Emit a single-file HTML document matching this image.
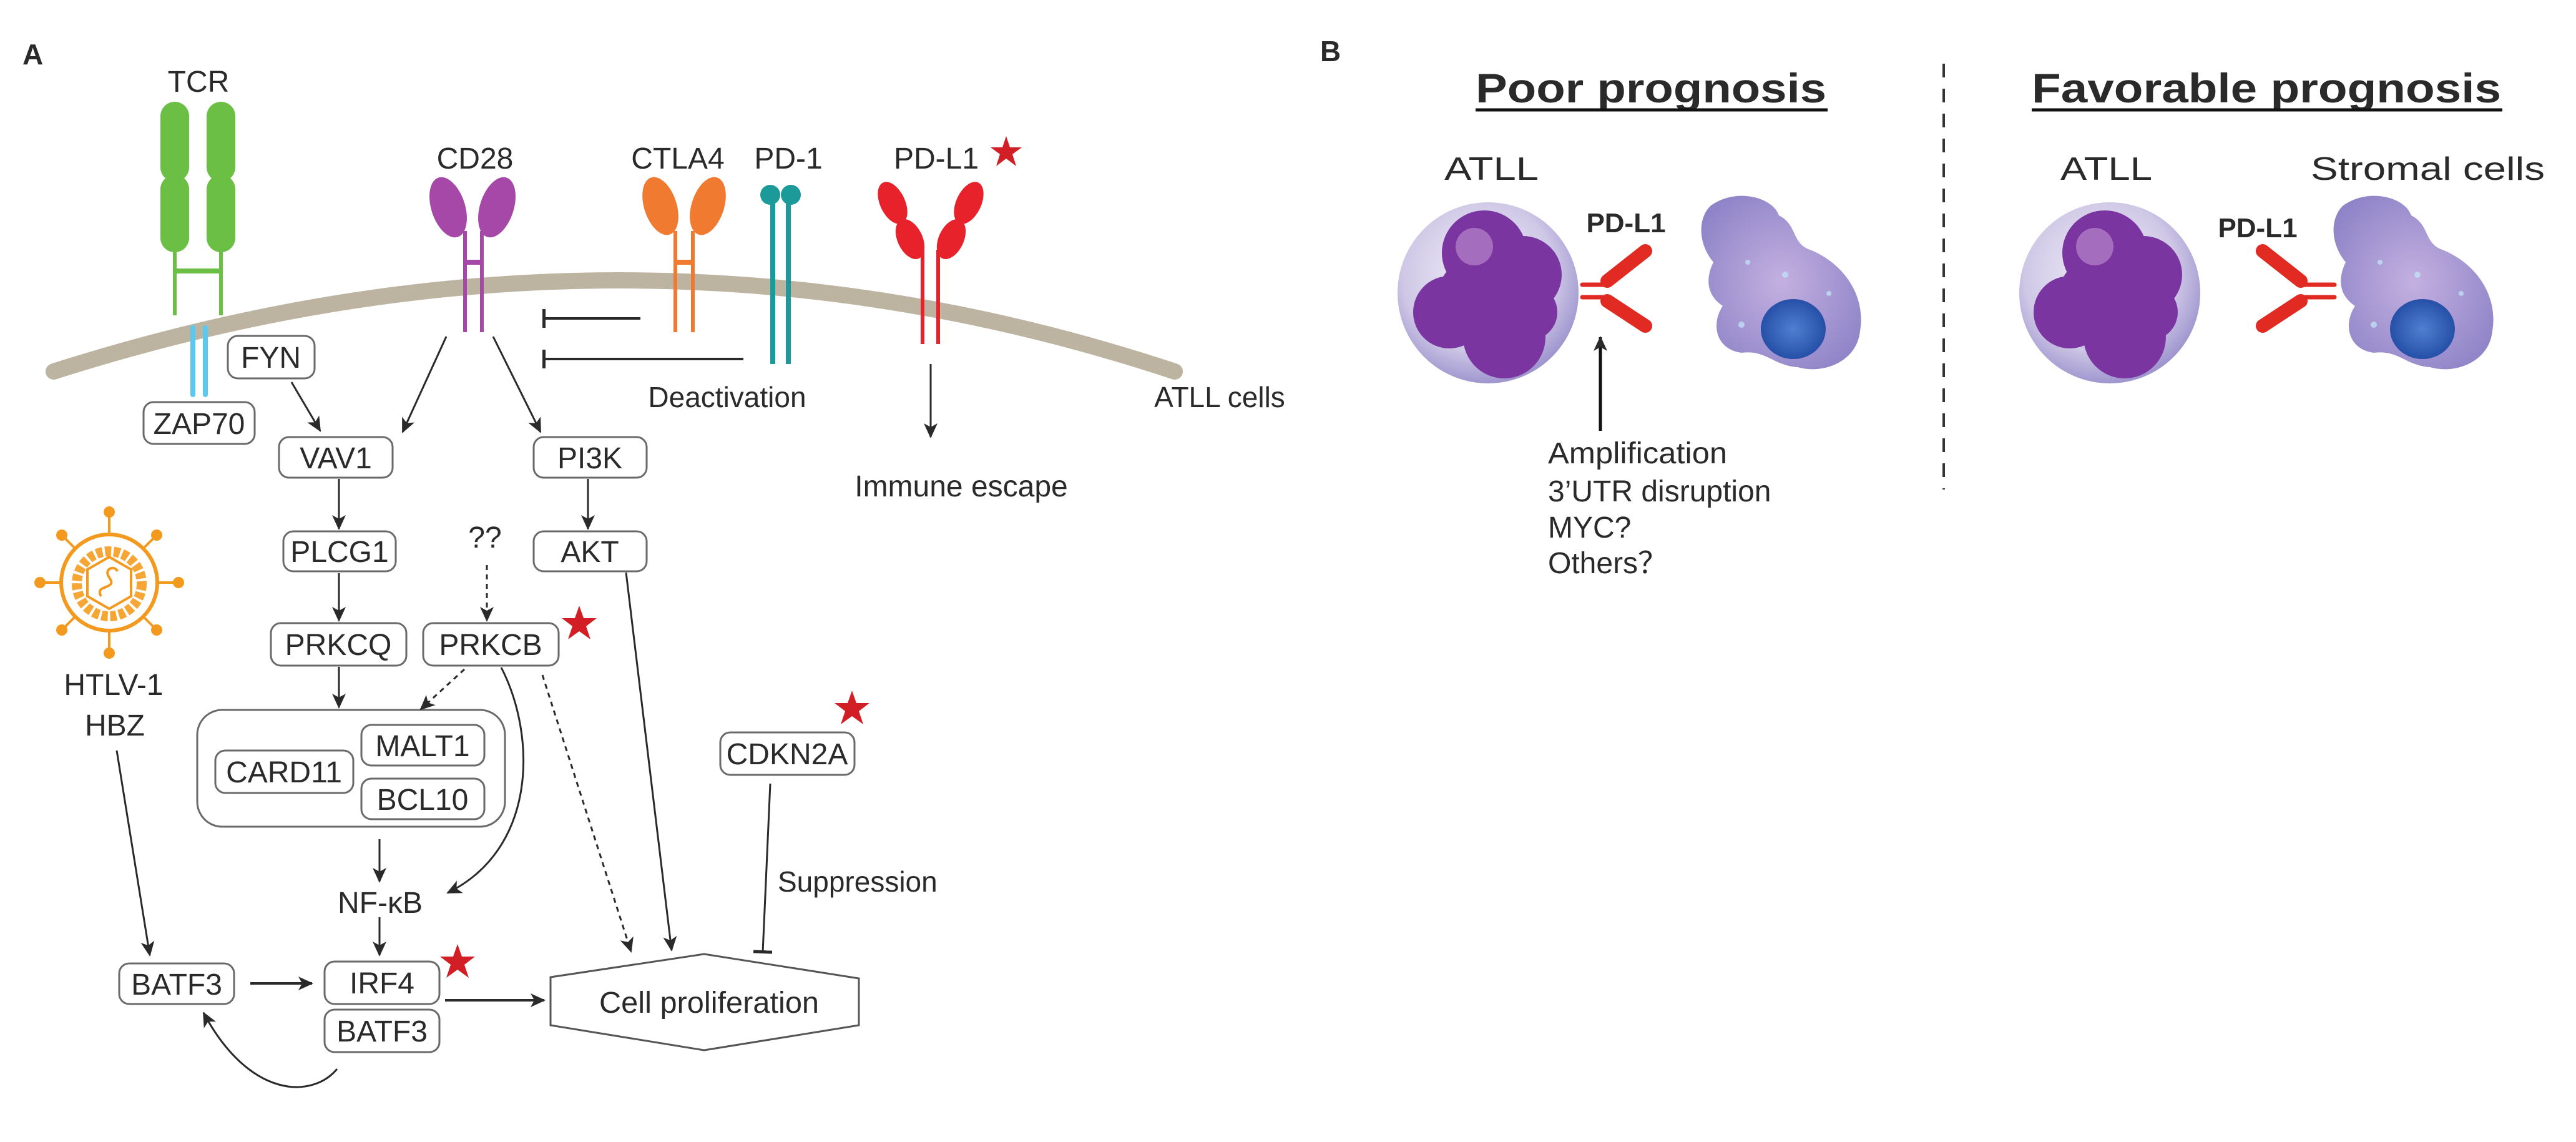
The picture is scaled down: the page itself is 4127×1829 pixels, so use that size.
<!DOCTYPE html>
<html><head><meta charset="utf-8"><style>
html,body{margin:0;padding:0;background:#fff}
svg{display:block}
text{font-family:"Liberation Sans",Arial,sans-serif;fill:#2a2a2a}
</style></head><body>
<svg width="4127" height="1829" viewBox="0 0 4127 1829" xmlns="http://www.w3.org/2000/svg">
<defs>
<marker id="ah" markerUnits="userSpaceOnUse" markerWidth="26" markerHeight="26" refX="22" refY="13" orient="auto"><path d="M0,2 L24,13 L0,24 L6,13 Z" fill="#2a2a2a"/></marker>
<marker id="tb" markerUnits="userSpaceOnUse" markerWidth="6" markerHeight="30" refX="3" refY="15" orient="auto"><rect x="0" y="0" width="5" height="30" fill="#2a2a2a"/></marker>
<radialGradient id="cellg" cx="0.45" cy="0.4" r="0.6"><stop offset="0" stop-color="#f2eff8"/><stop offset="0.7" stop-color="#cfc8e6"/><stop offset="1" stop-color="#9f96cf"/></radialGradient>
<radialGradient id="strg" cx="0.5" cy="0.5" r="0.6"><stop offset="0" stop-color="#c4b0e0"/><stop offset="1" stop-color="#8f84c8"/></radialGradient>
<radialGradient id="bn" cx="0.5" cy="0.5" r="0.5"><stop offset="0" stop-color="#4f7fd0"/><stop offset="1" stop-color="#2650a8"/></radialGradient>
</defs>

<!-- Panel A -->
<text x="36" y="103" font-size="46" font-weight="bold" fill="#111">A</text>

<path d="M86,595 Q1000,303 1882,595" fill="none" stroke="#bcb4a1" stroke-width="26" stroke-linecap="round"/>

<!-- TCR -->
<text x="318" y="147" font-size="48" text-anchor="middle">TCR</text>
<g fill="#6cbf45">
<rect x="257" y="163" width="46" height="128" rx="23"/><rect x="257" y="280" width="46" height="124" rx="23"/>
<rect x="331" y="163" width="46" height="128" rx="23"/><rect x="331" y="280" width="46" height="124" rx="23"/>
</g>
<g stroke="#6cbf45" stroke-width="6"><line x1="280" y1="395" x2="280" y2="505"/><line x1="354" y1="395" x2="354" y2="505"/><line x1="280" y1="434" x2="354" y2="434" stroke-width="8"/></g>
<g stroke="#5bc8f0" stroke-width="8" stroke-linecap="round"><line x1="309" y1="525" x2="309" y2="632"/><line x1="329" y1="525" x2="329" y2="632"/></g>

<!-- CD28 -->
<text x="761" y="270" font-size="48" text-anchor="middle">CD28</text>
<g fill="#a548a8"><ellipse cx="718" cy="332" rx="27" ry="50" transform="rotate(-18 718 332)"/><ellipse cx="796" cy="332" rx="27" ry="50" transform="rotate(18 796 332)"/></g>
<g stroke="#a548a8" stroke-width="6"><line x1="745" y1="370" x2="745" y2="532"/><line x1="772" y1="370" x2="772" y2="532"/><line x1="745" y1="420" x2="772" y2="420" stroke-width="8"/></g>

<!-- CTLA4 -->
<text x="1086" y="270" font-size="48" text-anchor="middle">CTLA4</text>
<g fill="#f07a30"><ellipse cx="1058" cy="330" rx="26" ry="48" transform="rotate(-18 1058 330)"/><ellipse cx="1134" cy="330" rx="26" ry="48" transform="rotate(18 1134 330)"/></g>
<g stroke="#f07a30" stroke-width="6"><line x1="1082" y1="370" x2="1082" y2="532"/><line x1="1110" y1="370" x2="1110" y2="532"/><line x1="1082" y1="420" x2="1110" y2="420" stroke-width="8"/></g>

<!-- PD-1 -->
<text x="1263" y="270" font-size="48" text-anchor="middle">PD-1</text>
<g fill="#1c9a9a"><circle cx="1234" cy="312" r="16"/><circle cx="1267" cy="312" r="16"/></g>
<g stroke="#1c9a9a" stroke-width="8"><line x1="1238" y1="315" x2="1238" y2="583"/><line x1="1263" y1="315" x2="1263" y2="583"/></g>

<!-- PD-L1 -->
<text x="1500" y="270" font-size="48" text-anchor="middle">PD-L1</text>
<g fill="#e8222a">
<ellipse cx="1430" cy="325" rx="20" ry="36" transform="rotate(-25 1430 325)"/><ellipse cx="1458" cy="383" rx="20" ry="34" transform="rotate(-25 1458 383)"/>
<ellipse cx="1552" cy="325" rx="20" ry="36" transform="rotate(25 1552 325)"/><ellipse cx="1524" cy="383" rx="20" ry="34" transform="rotate(25 1524 383)"/>
</g>
<g stroke="#e8222a" stroke-width="6"><line x1="1478" y1="400" x2="1478" y2="551"/><line x1="1503" y1="400" x2="1503" y2="551"/></g>

<!-- stars -->
<g fill="#d21f26">
<polygon points="1612,218 1618,236 1637,236 1622,247 1628,266 1612,254 1596,266 1602,247 1587,236 1606,236"/>
<polygon points="928,970 935,990 956,990 939,1003 946,1024 928,1011 910,1024 917,1003 900,990 921,990"/>
<polygon points="1365,1106 1372,1126 1393,1126 1376,1139 1383,1160 1365,1147 1347,1160 1354,1139 1337,1126 1358,1126"/>
<polygon points="733,1512 740,1532 761,1532 744,1545 751,1566 733,1553 715,1566 722,1545 705,1532 726,1532"/>
</g>

<g stroke="#2a2a2a" stroke-width="4" fill="none">
<line x1="1026" y1="510" x2="871" y2="510" marker-end="url(#tb)"/>
<line x1="1191" y1="575" x2="871" y2="575" marker-end="url(#tb)"/>
</g>
<text x="1165" y="652" font-size="46" text-anchor="middle">Deactivation</text>
<text x="1954" y="652" font-size="46" text-anchor="middle">ATLL cells</text>

<!-- boxes -->
<g fill="#fff" stroke="#6a6a6a" stroke-width="3">
<rect x="365" y="538" width="139" height="68" rx="16"/>
<rect x="230" y="644" width="178" height="67" rx="16"/>
<rect x="447" y="700" width="182" height="65" rx="16"/>
<rect x="855" y="700" width="181" height="65" rx="16"/>
<rect x="454" y="851" width="180" height="64" rx="16"/>
<rect x="855" y="851" width="181" height="64" rx="16"/>
<rect x="434" y="998" width="217" height="68" rx="16"/>
<rect x="678" y="998" width="217" height="68" rx="16"/>
<rect x="316" y="1137" width="493" height="187" rx="40"/>
<rect x="345" y="1202" width="221" height="68" rx="16"/>
<rect x="579" y="1161" width="197" height="65" rx="16"/>
<rect x="579" y="1247" width="197" height="65" rx="16"/>
<rect x="1154" y="1173" width="215" height="68" rx="16"/>
<rect x="191" y="1543" width="184" height="65" rx="16"/>
<rect x="520" y="1540" width="184" height="68" rx="16"/>
<rect x="520" y="1617" width="184" height="68" rx="16"/>
</g>
<g font-size="48" text-anchor="middle">
<text x="434" y="589">FYN</text>
<text x="319" y="695">ZAP70</text>
<text x="538" y="750">VAV1</text>
<text x="945" y="750">PI3K</text>
<text x="544" y="900">PLCG1</text>
<text x="945" y="900">AKT</text>
<text x="777" y="877">??</text>
<text x="542" y="1049">PRKCQ</text>
<text x="786" y="1049">PRKCB</text>
<text x="455" y="1253">CARD11</text>
<text x="677" y="1211">MALT1</text>
<text x="677" y="1297">BCL10</text>
<text x="1261" y="1224">CDKN2A</text>
<text x="283" y="1593">BATF3</text>
<text x="612" y="1591">IRF4</text>
<text x="612" y="1668">BATF3</text>
<text x="182" y="1113">HTLV-1</text>
<text x="184" y="1178">HBZ</text>
<text x="609" y="1462">NF-κB</text>
<text x="1540" y="795">Immune escape</text>
</g>
<text x="1246" y="1428" font-size="46">Suppression</text>

<polygon points="1128,1528 1376,1567 1376,1642 1128,1682 882,1642 882,1565" fill="#fff" stroke="#555" stroke-width="3"/>
<text x="1136" y="1622" font-size="48" text-anchor="middle" textLength="352" lengthAdjust="spacingAndGlyphs">Cell proliferation</text>

<!-- arrows -->
<g stroke="#2a2a2a" stroke-width="3" fill="none">
<line x1="467" y1="612" x2="513" y2="690" marker-end="url(#ah)"/>
<line x1="715" y1="539" x2="645" y2="692" marker-end="url(#ah)"/>
<line x1="790" y1="539" x2="866" y2="692" marker-end="url(#ah)"/>
<line x1="1491" y1="583" x2="1491" y2="700" marker-end="url(#ah)"/>
<line x1="543" y1="767" x2="543" y2="847" marker-end="url(#ah)"/>
<line x1="942" y1="767" x2="942" y2="847" marker-end="url(#ah)"/>
<line x1="780" y1="905" x2="780" y2="994" marker-end="url(#ah)" stroke-dasharray="8,7"/>
<line x1="543" y1="918" x2="543" y2="994" marker-end="url(#ah)"/>
<line x1="543" y1="1068" x2="543" y2="1133" marker-end="url(#ah)"/>
<line x1="744" y1="1072" x2="674" y2="1136" marker-end="url(#ah)" stroke-dasharray="8,7"/>
<path d="M803,1069 C860,1180 860,1360 717,1430" marker-end="url(#ah)"/>
<line x1="869" y1="1081" x2="1011" y2="1524" marker-end="url(#ah)" stroke-dasharray="8,7"/>
<line x1="1003" y1="917" x2="1076" y2="1522" marker-end="url(#ah)"/>
<line x1="608" y1="1344" x2="608" y2="1412" marker-end="url(#ah)"/>
<line x1="608" y1="1469" x2="608" y2="1530" marker-end="url(#ah)"/>
<line x1="187" y1="1202" x2="240" y2="1530" marker-end="url(#ah)"/>
<line x1="401" y1="1575" x2="500" y2="1575" marker-end="url(#ah)" stroke-width="4"/>
<line x1="713" y1="1602" x2="872" y2="1602" marker-end="url(#ah)" stroke-width="4"/>
<path d="M540,1712 C500,1760 400,1760 326,1622" marker-end="url(#ah)"/>
<line x1="1234" y1="1255" x2="1222" y2="1525" marker-end="url(#tb)"/>
</g>

<!-- virus -->
<g stroke="#f39a1e" fill="none">
<circle cx="175" cy="933" r="77" stroke-width="6"/>
<g stroke-width="4">
<line x1="175" y1="856" x2="175" y2="822"/><line x1="175" y1="1010" x2="175" y2="1044"/>
<line x1="98" y1="933" x2="66" y2="933"/><line x1="252" y1="933" x2="284" y2="933"/>
<line x1="121" y1="879" x2="100" y2="858"/><line x1="229" y1="879" x2="250" y2="858"/>
<line x1="121" y1="987" x2="100" y2="1008"/><line x1="229" y1="987" x2="250" y2="1008"/>
</g>
<circle cx="175" cy="935" r="52" stroke-width="16" stroke-dasharray="10,4" stroke="#f6a634"/>
<polygon points="175,892 210,912 210,955 175,975 140,955 140,912" stroke-width="4"/>
<path d="M162,955 C150,935 190,945 175,925 C165,910 185,905 188,915" stroke-width="4"/>
</g>
<g fill="#f39a1e">
<circle cx="175" cy="820" r="9"/><circle cx="175" cy="1046" r="9"/><circle cx="64" cy="933" r="9"/><circle cx="286" cy="933" r="9"/>
<circle cx="99" cy="857" r="9"/><circle cx="251" cy="857" r="9"/><circle cx="99" cy="1009" r="9"/><circle cx="251" cy="1009" r="9"/>
</g>

<!-- Panel B -->
<text x="2115" y="98" font-size="46" font-weight="bold" fill="#111">B</text>
<line x1="3114" y1="102" x2="3114" y2="784" stroke="#333" stroke-width="4" stroke-dasharray="22,18"/>
<text x="2364" y="164" font-size="66" font-weight="bold" textLength="562" lengthAdjust="spacingAndGlyphs" fill="#111">Poor prognosis</text>
<line x1="2364" y1="176" x2="2928" y2="176" stroke="#111" stroke-width="5"/>
<text x="3255" y="164" font-size="66" font-weight="bold" textLength="752" lengthAdjust="spacingAndGlyphs" fill="#111">Favorable prognosis</text>
<line x1="3255" y1="176" x2="4009" y2="176" stroke="#111" stroke-width="5"/>
<text x="2314" y="288" font-size="52" textLength="151" lengthAdjust="spacingAndGlyphs">ATLL</text>
<text x="3301" y="288" font-size="52" textLength="147" lengthAdjust="spacingAndGlyphs">ATLL</text>
<text x="3702" y="288" font-size="52" textLength="375" lengthAdjust="spacingAndGlyphs">Stromal cells</text>

<g>
<circle cx="2384" cy="469" r="145" fill="url(#cellg)"/>
<g fill="#7a35a0">
<circle cx="2378" cy="405" r="68"/><circle cx="2440" cy="440" r="62"/><circle cx="2322" cy="500" r="58"/>
<circle cx="2410" cy="540" r="66"/><circle cx="2450" cy="500" r="45"/><circle cx="2360" cy="470" r="55"/>
</g>
<circle cx="2362" cy="395" r="30" fill="#c99bd6" opacity="0.55"/>
</g>
<text x="2605" y="372" font-size="44" font-weight="bold" text-anchor="middle" fill="#111">PD-L1</text>
<g stroke="#e02a22" stroke-linecap="round">
<line x1="2535" y1="456" x2="2572" y2="456" stroke-width="7"/><line x1="2535" y1="476" x2="2572" y2="476" stroke-width="7"/>
<line x1="2575" y1="450" x2="2636" y2="402" stroke-width="22"/><line x1="2575" y1="482" x2="2636" y2="522" stroke-width="22"/>
</g>
<line x1="2564" y1="690" x2="2564" y2="540" stroke="#111" stroke-width="5" marker-end="url(#ah)"/>
<g font-size="48">
<text x="2480" y="742" textLength="287" lengthAdjust="spacingAndGlyphs">Amplification</text>
<text x="2480" y="803">3’UTR disruption</text>
<text x="2480" y="861">MYC?</text>
<text x="2480" y="918">Others？</text>
</g>
<path d="M2740,330 C2780,300 2840,315 2850,345 C2880,360 2870,390 2900,400 C2950,420 2990,470 2980,530 C2975,580 2920,600 2880,588 C2840,585 2830,560 2790,565 C2750,560 2740,520 2760,490 C2730,470 2735,440 2745,420 C2720,390 2720,350 2740,330 Z" fill="url(#strg)"/>
<ellipse cx="2873" cy="527" rx="52" ry="48" fill="url(#bn)"/>
<g fill="#bfe0f5" opacity="0.8"><circle cx="2800" cy="420" r="4"/><circle cx="2860" cy="440" r="5"/><circle cx="2930" cy="470" r="4"/><circle cx="2790" cy="520" r="5"/></g>

<g transform="translate(994,0)">
<circle cx="2386" cy="469" r="145" fill="url(#cellg)"/>
<g fill="#7a35a0">
<circle cx="2378" cy="405" r="68"/><circle cx="2440" cy="440" r="62"/><circle cx="2322" cy="500" r="58"/>
<circle cx="2410" cy="540" r="66"/><circle cx="2450" cy="500" r="45"/><circle cx="2360" cy="470" r="55"/>
</g>
<circle cx="2362" cy="395" r="30" fill="#c99bd6" opacity="0.55"/>
</g>
<text x="3617" y="380" font-size="44" font-weight="bold" text-anchor="middle" fill="#111">PD-L1</text>
<g transform="translate(1013,0)">
<path d="M2740,330 C2780,300 2840,315 2850,345 C2880,360 2870,390 2900,400 C2950,420 2990,470 2980,530 C2975,580 2920,600 2880,588 C2840,585 2830,560 2790,565 C2750,560 2740,520 2760,490 C2730,470 2735,440 2745,420 C2720,390 2720,350 2740,330 Z" fill="url(#strg)"/>
<ellipse cx="2868" cy="527" rx="52" ry="48" fill="url(#bn)"/>
<g fill="#bfe0f5" opacity="0.8"><circle cx="2800" cy="420" r="4"/><circle cx="2860" cy="440" r="5"/><circle cx="2930" cy="470" r="4"/><circle cx="2790" cy="520" r="5"/></g>
</g>
<g stroke="#e02a22" stroke-linecap="round">
<line x1="3690" y1="456" x2="3740" y2="456" stroke-width="7"/><line x1="3690" y1="476" x2="3740" y2="476" stroke-width="7"/>
<line x1="3686" y1="450" x2="3625" y2="402" stroke-width="22"/><line x1="3686" y1="482" x2="3625" y2="522" stroke-width="22"/>
</g>
</svg>
</body></html>
